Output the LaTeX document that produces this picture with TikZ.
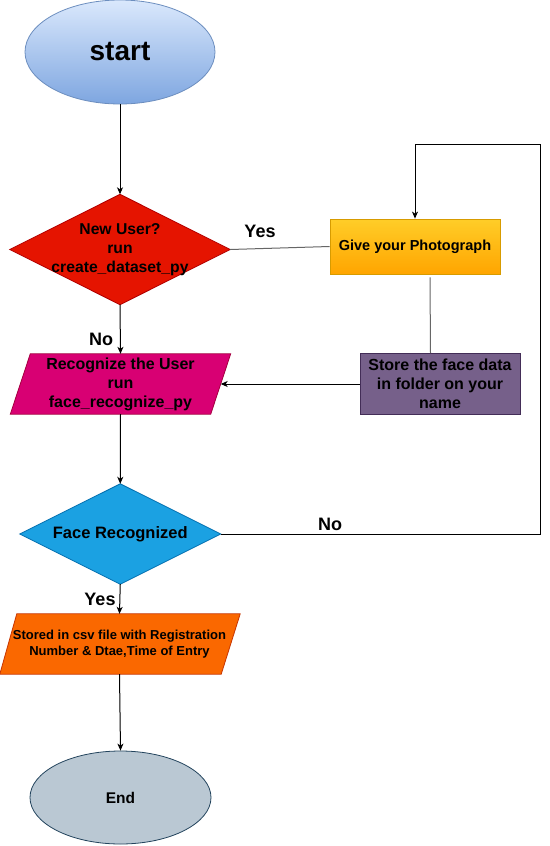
\documentclass[tikz,border=0pt]{standalone}
\usepackage{fontspec}
\setmainfont{Liberation Sans}
\usetikzlibrary{shapes.geometric,arrows.meta,calc,backgrounds}
\definecolor{startt}{HTML}{DAE8FC}
\definecolor{startbot}{HTML}{7EA6E0}
\definecolor{startb}{HTML}{6C8EBF}
\definecolor{givet}{HTML}{FFCD28}
\definecolor{givebot}{HTML}{FFA500}
\definecolor{giveb}{HTML}{D79B00}
\definecolor{redf}{HTML}{E51400}
\definecolor{redb}{HTML}{B20000}
\definecolor{pinkf}{HTML}{D80073}
\definecolor{pinkb}{HTML}{A50040}
\definecolor{purf}{HTML}{76608A}
\definecolor{purb}{HTML}{432D57}
\definecolor{bluef}{HTML}{1BA1E2}
\definecolor{blueb}{HTML}{006EAF}
\definecolor{orf}{HTML}{FA6800}
\definecolor{orb}{HTML}{C73500}
\definecolor{endf}{HTML}{BAC8D3}
\definecolor{endb}{HTML}{23445D}
\definecolor{lgray}{HTML}{666666}
\begin{document}
\begin{tikzpicture}[x=1pt,y=-1pt,
  txt/.style={align=center, inner sep=0pt, text=black},
  arr/.style={-{Stealth[length=7pt,width=6pt,inset=2pt]}, line width=1pt, black},
  plainline/.style={line width=1pt, draw=lgray},
  lbl/.style={font=\bfseries\fontsize{18}{20}\selectfont, inner sep=0pt},
  shapeline/.style={line width=0.8pt}
]
\begin{pgfonlayer}{background}
\fill[white] (0,0) rectangle (549,846);
\end{pgfonlayer}
\useasboundingbox (0,0) rectangle (549,846);

% nodes
\node[ellipse, txt, minimum width=190, minimum height=104, shapeline, draw=startb,
      top color=startt, bottom color=startbot,
      font=\bfseries\fontsize{28}{30}\selectfont] (start) at (120,52) {\raisebox{-1.5pt}{start}};

\node[txt, minimum width=220, minimum height=110,
      font=\bfseries\fontsize{15.7}{19}\selectfont] (d1) at (120,249.5)
      {New User?\\run\\create\_dataset\_py};

\node[rectangle, txt, minimum width=170, minimum height=55, shapeline, draw=giveb,
      top color=givet, bottom color=givebot,
      font=\bfseries\fontsize{14.5}{17}\selectfont] (give) at (415,246.5)
      {Give your Photograph};

\node[rectangle, txt, minimum width=160, minimum height=61, shapeline, draw=purb,
      fill=purf, font=\bfseries\fontsize{16}{19}\selectfont] (store) at (440,384)
      {Store the face data\\in folder on your\\name};

\node[txt, minimum width=200, minimum height=60,
      font=\bfseries\fontsize{16}{19}\selectfont] (p1) at (120.5,384)
      {Recognize the User\\run\\face\_recognize\_py};

\node[txt, minimum width=200.5, minimum height=100,
      font=\bfseries\fontsize{16.5}{19}\selectfont] (d2) at (120.25,534)
      {Face Recognized};

\node[txt, minimum width=222, minimum height=60,
      font=\bfseries\fontsize{13}{16}\selectfont] (p2) at (119.5,644)
      {Stored in csv file with Registration\\Number \& Dtae,Time of Entry};

\node[ellipse, txt, minimum width=181, minimum height=93, shapeline, draw=endb,
      fill=endf, font=\bfseries\fontsize{15.5}{18}\selectfont] (stop) at (120.5,797.5) {End};

% shapes behind text
\begin{pgfonlayer}{background}
\filldraw[fill=redf, draw=redb, shapeline] (d1.north) -- (d1.east) -- (d1.south) -- (d1.west) -- cycle;
\filldraw[fill=bluef, draw=blueb, shapeline] (d2.north) -- (d2.east) -- (d2.south) -- (d2.west) -- cycle;
\filldraw[fill=pinkf, draw=pinkb, shapeline]
  ($(p1.south west)+(-10,0)$) -- ($(p1.north west)+(10,0)$) --
  ($(p1.north east)+(10,0)$) -- ($(p1.south east)+(-10,0)$) -- cycle;
\filldraw[fill=orf, draw=orb, shapeline]
  ($(p2.south west)+(-8.5,0)$) -- ($(p2.north west)+(8.5,0)$) --
  ($(p2.north east)+(9.5,0)$) -- ($(p2.south east)+(-9.5,0)$) -- cycle;
\end{pgfonlayer}

% connectors
\draw[arr] (start.south) -- (d1.north);
\draw[plainline] (d1.east) -- (give.west);
\draw[plainline] ($(give.south)+(15,3)$) -- ($(store.north)+(-9.5,0)$);
\draw[arr] (store.west) -- (p1.east);
\draw[arr] (d1.south) -- (p1.north);
\draw[arr] (p1.south) -- (d2.north);
\coordinate (lp) at (540,144);
\draw[arr] (d2.east) -| (lp) -| (give.north);
\draw[arr] (d2.south) -- (p2.north);
\draw[arr] (p2.south) -- (stop.north);

% labels
\node[lbl] (yes1) at (260,231) {Yes};
\node[lbl] (no1) at (101,339) {No};
\node[lbl] (no2) at (330,524) {No};
\node[lbl] (yes2) at (100,599) {Yes};
\end{tikzpicture}
\end{document}
